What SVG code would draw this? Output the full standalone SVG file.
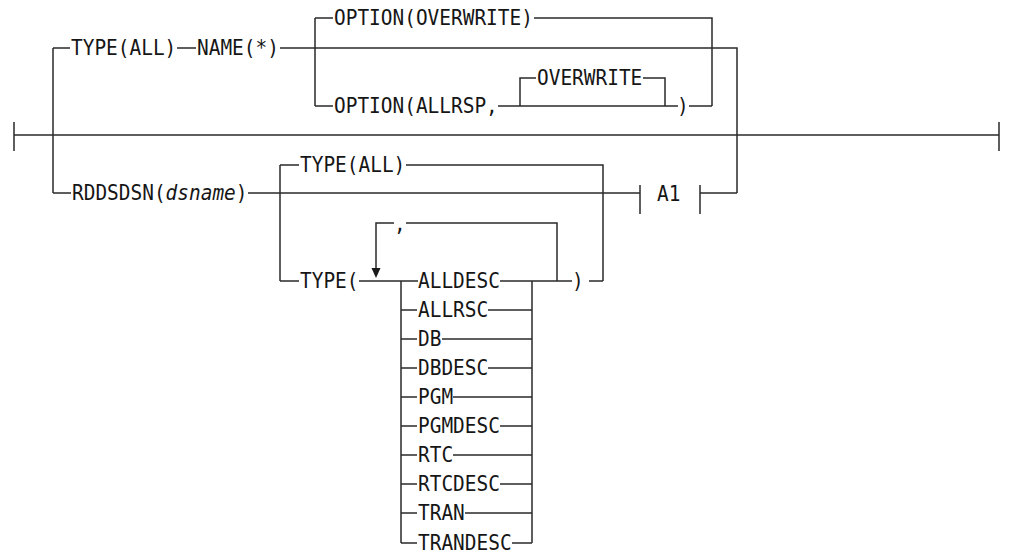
<svg xmlns="http://www.w3.org/2000/svg" width="1009" height="556" viewBox="0 0 1009 556">
<style>
.ln{fill:none;stroke:#2a2a2a;stroke-width:1.5;stroke-linecap:butt}
.t{font-family:"DejaVu Sans Mono","Liberation Mono",monospace;font-size:22px;fill:#161616}
.i{font-style:italic}
</style>
<rect x="0" y="0" width="1009" height="556" fill="#ffffff"/>
<g id="connectors" class="ln">
<path d="M14 135 H999"/>
<path d="M14 122 V151 M999 122 V151"/>
<path d="M53 48 V193"/>
<path d="M53 48 H70 M177 48 H196 M280 48 H737 V193"/>
<path d="M315 18 V106 M315 18 H333 M534 18 H712 V106"/>
<path d="M315 106 H333 M498 106 H678 M689 106 H712"/>
<path d="M520 106 V78 H536 M643 78 H665 V106"/>
<path d="M280 165 V281 M280 165 H299 M406 165 H603 V281"/>
<path d="M53 193 H71 M248 193 H640 M700 193 H737"/>
<path d="M280 281 H299 M359 281 H418 M500 281 H572 M589 281 H603"/>
<path d="M376 272 V223 H394 M406 223 H557 V281"/>
<path d="M401 281 V543 M532 281 V543"/>
<path d="M401 310 H417 M488 310 H532"/>
<path d="M401 339 H417 M442 339 H532"/>
<path d="M401 368 H417 M488 368 H532"/>
<path d="M401 397 H417 M453 397 H532"/>
<path d="M401 426 H417 M500 426 H532"/>
<path d="M401 455 H417 M453 455 H532"/>
<path d="M401 484 H417 M500 484 H532"/>
<path d="M401 513 H417 M465 513 H532"/>
<path d="M401 543 H417 M512 543 H532"/>
<polygon points="371.5,268 380.5,268 376,278" fill="#1a1a1a" stroke="none"/>
</g>
<g id="n-option-overwrite"><text class="t" x="334" y="25" textLength="198.9" lengthAdjust="spacingAndGlyphs">OPTION(OVERWRITE)</text></g>
<g id="n-type-all-1"><text class="t" x="71" y="55" textLength="105.3" lengthAdjust="spacingAndGlyphs">TYPE(ALL)</text></g>
<g id="n-name"><text class="t" x="197" y="55" textLength="81.9" lengthAdjust="spacingAndGlyphs">NAME(*)</text></g>
<g id="n-option-allrsp"><text class="t" x="334" y="113" textLength="163.8" lengthAdjust="spacingAndGlyphs">OPTION(ALLRSP,</text></g>
<g id="n-overwrite"><text class="t" x="537" y="85" textLength="105.3" lengthAdjust="spacingAndGlyphs">OVERWRITE</text></g>
<g id="n-close-1"><text class="t" x="677" y="113" textLength="11.7" lengthAdjust="spacingAndGlyphs">)</text></g>
<g id="n-type-all-2"><text class="t" x="300" y="172" textLength="105.3" lengthAdjust="spacingAndGlyphs">TYPE(ALL)</text></g>
<g id="n-rddsdsn"><text class="t" x="72" y="200" textLength="175.5" lengthAdjust="spacingAndGlyphs">RDDSDSN(<tspan class="i">dsname</tspan>)</text></g>
<g id="n-a1"><text class="t" x="657" y="201" textLength="23.4" lengthAdjust="spacingAndGlyphs">A1</text>
<path class="ln" d="M640 185 V214 M700 185 V214"/></g>
<g id="n-type-open"><text class="t" x="300" y="288" textLength="58.5" lengthAdjust="spacingAndGlyphs">TYPE(</text></g>
<g id="n-comma"><text class="t" x="394" y="231" textLength="11.7" lengthAdjust="spacingAndGlyphs">,</text></g>
<g id="n-close-2"><text class="t" x="572" y="288" textLength="11.7" lengthAdjust="spacingAndGlyphs">)</text></g>
<g id="n-alldesc"><text class="t" x="418" y="288" textLength="81.9" lengthAdjust="spacingAndGlyphs">ALLDESC</text></g>
<g id="n-allrsc"><text class="t" x="418" y="317" textLength="70.2" lengthAdjust="spacingAndGlyphs">ALLRSC</text></g>
<g id="n-db"><text class="t" x="418" y="346" textLength="23.4" lengthAdjust="spacingAndGlyphs">DB</text></g>
<g id="n-dbdesc"><text class="t" x="418" y="375" textLength="70.2" lengthAdjust="spacingAndGlyphs">DBDESC</text></g>
<g id="n-pgm"><text class="t" x="418" y="404" textLength="35.1" lengthAdjust="spacingAndGlyphs">PGM</text></g>
<g id="n-pgmdesc"><text class="t" x="418" y="433" textLength="81.9" lengthAdjust="spacingAndGlyphs">PGMDESC</text></g>
<g id="n-rtc"><text class="t" x="418" y="462" textLength="35.1" lengthAdjust="spacingAndGlyphs">RTC</text></g>
<g id="n-rtcdesc"><text class="t" x="418" y="491" textLength="81.9" lengthAdjust="spacingAndGlyphs">RTCDESC</text></g>
<g id="n-tran"><text class="t" x="418" y="520" textLength="46.8" lengthAdjust="spacingAndGlyphs">TRAN</text></g>
<g id="n-trandesc"><text class="t" x="418" y="550" textLength="93.6" lengthAdjust="spacingAndGlyphs">TRANDESC</text></g>
</svg>
